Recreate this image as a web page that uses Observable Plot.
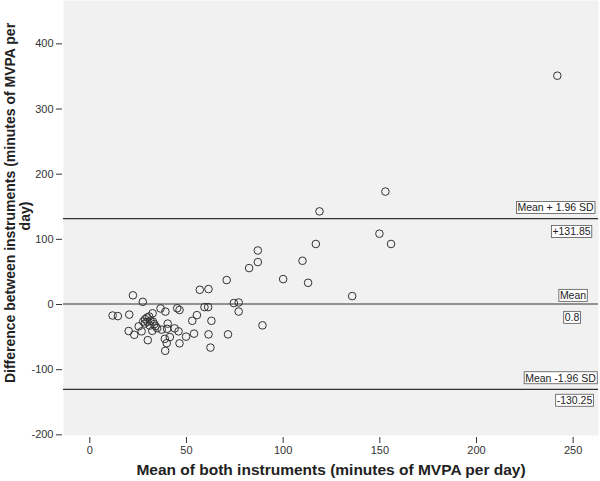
<!DOCTYPE html>
<html>
<head>
<meta charset="utf-8">
<script src="https://cdn.jsdelivr.net/npm/d3@7"></script>
<script src="https://cdn.jsdelivr.net/npm/@observablehq/plot@0.6"></script>
<style>
  html, body { margin: 0; padding: 0; background: #ffffff; }
  svg { display: block; }
</style>
</head>
<body>
<div id="chart"></div>
<script>
// ---- data ----
const meanX = [241.8, 152.9, 118.8, 149.8, 155.8, 116.9, 86.9, 86.9, 82.4, 110.0,
  70.8, 100.0, 112.9, 56.9, 61.4, 135.7, 22.3, 27.4, 59.3, 61.2,
  74.5, 77.0, 77.0, 45.2, 46.4, 36.6, 39.1, 11.8, 14.5, 20.4,
  32.5, 55.4, 53.0, 62.9, 89.3, 40.3, 25.3, 26.8, 20.1, 23.0,
  32.3, 34.8, 37.2, 40.0, 43.9, 45.9, 30.0, 38.8, 41.4, 39.8,
  46.4, 49.8, 53.9, 61.4, 71.5, 62.4, 39.0, 27.6, 28.6, 29.7,
  30.7, 28.4, 29.8, 31.4, 32.6, 33.3, 31.0, 34.0];
const diffY = [351.1, 173.3, 142.9, 108.7, 92.9, 92.9, 82.9, 65.1, 55.9, 67.1,
  37.5, 39.0, 33.3, 22.6, 23.7, 12.9, 14.1, 4.1, -4.0, -4.0,
  2.2, 3.1, -10.8, -5.8, -8.4, -6.1, -10.9, -16.9, -17.8, -15.5,
  -13.5, -16.3, -25.0, -25.0, -32.0, -29.3, -33.5, -41.2, -40.7, -46.5,
  -40.4, -36.3, -38.6, -37.3, -36.6, -41.2, -54.7, -52.7, -49.9, -59.3,
  -59.6, -49.3, -44.7, -45.8, -45.8, -66.1, -71.1, -26.1, -22.4, -20.0,
  -18.4, -29.2, -26.6, -25.0, -26.1, -30.1, -32.3, -33.2];
const refValues = [131.85, 0.8, -130.25];
const refNames = ["Mean + 1.96 SD", "Mean", "Mean -1.96 SD"];
const refValueLabels = ["+131.85", "0.8", "-130.25"];
const xTicks = [0, 50, 100, 150, 200, 250];
const yTicks = [-200, -100, 0, 100, 200, 300, 400];
const xTitle = "Mean of both instruments (minutes of MVPA per day)";
const yTitleLines = ["Difference between instruments (minutes of MVPA per", "day)"];

// ---- build tables ----
const points = meanX.map((x, i) => ({x, y: diffY[i]}));
// label placement (screen offsets from right frame edge / line)
const nameOffsets = [{dx: -43, dy: -10.5}, {dx: -25.5, dy: -8}, {dx: -38, dy: -11}];
const valueOffsets = [{dx: -27, dy: 13.5}, {dx: -26.5, dy: 14}, {dx: -24, dy: 11.5}];
const refLabels = [];
refValues.forEach((v, i) => {
  refLabels.push({y: v, text: refNames[i], ...nameOffsets[i]});
  refLabels.push({y: v, text: refValueLabels[i], ...valueOffsets[i]});
});

const font = "'Liberation Sans', Arial, sans-serif";
const fmt = d => String(d);

const labelMarks = refLabels.map(d => Plot.text([d], {
  y: "y", text: "text", frameAnchor: "right", textAnchor: "middle",
  lineAnchor: "middle", dx: d.dx, dy: d.dy, fontSize: 10.5, fill: "#222",
  className: "reflabel"
}));

const chart = Plot.plot({
  width: 600,
  height: 481,
  marginLeft: 63,
  marginRight: 2,
  marginTop: 0,
  marginBottom: 46,
  style: {background: "#ffffff", fontFamily: font, color: "#333", overflow: "visible"},
  x: {domain: [-13.6, 263.1]},
  y: {domain: [-201, 466.5]},
  marks: [
    Plot.frame({fill: "#f0f1f0", stroke: "none"}),
    Plot.ruleY(refValues, {stroke: "#333", strokeWidth: 1.2}),
    Plot.dot(points, {x: "x", y: "y", r: 3.8, stroke: "#333", strokeWidth: 1, fill: "none"}),
    Plot.axisX({ticks: xTicks, tickFormat: fmt, tickSize: 6, tickPadding: 3, dy: 2, fontSize: 11, label: null, stroke: "#333"}),
    Plot.axisY({ticks: yTicks, tickFormat: fmt, tickSize: 6, tickPadding: 3, dx: -1, fontSize: 11, label: null, stroke: "#333"}),
    Plot.text([xTitle], {frameAnchor: "bottom", dy: 35, lineAnchor: "middle", textAnchor: "middle",
      fontSize: 15.5, fontWeight: "bold", fill: "#222"}),
    Plot.text([yTitleLines[0]], {frameAnchor: "left", rotate: -90, dx: -53, dy: -15,
      textAnchor: "middle", lineAnchor: "middle", fontSize: 14, fontWeight: "bold", fill: "#222"}),
    Plot.text([yTitleLines[1]], {frameAnchor: "left", rotate: -90, dx: -38, dy: -2,
      textAnchor: "middle", lineAnchor: "middle", fontSize: 14, fontWeight: "bold", fill: "#222"}),
    ...labelMarks
  ]
});

document.getElementById("chart").appendChild(chart);

// draw tight boxes behind the reference-line labels
chart.querySelectorAll("g.reflabel text").forEach(t => {
  const b = t.getBBox();
  const r = document.createElementNS("http://www.w3.org/2000/svg", "rect");
  r.setAttribute("x", b.x - 1);
  r.setAttribute("y", b.y);
  r.setAttribute("width", b.width + 2);
  r.setAttribute("height", b.height);
  r.setAttribute("fill", "#ffffff");
  r.setAttribute("stroke", "#555");
  r.setAttribute("stroke-width", "0.8");
  const tr = t.getAttribute("transform");
  if (tr) r.setAttribute("transform", tr);
  t.parentNode.insertBefore(r, t);
});
</script>
</body>
</html>
